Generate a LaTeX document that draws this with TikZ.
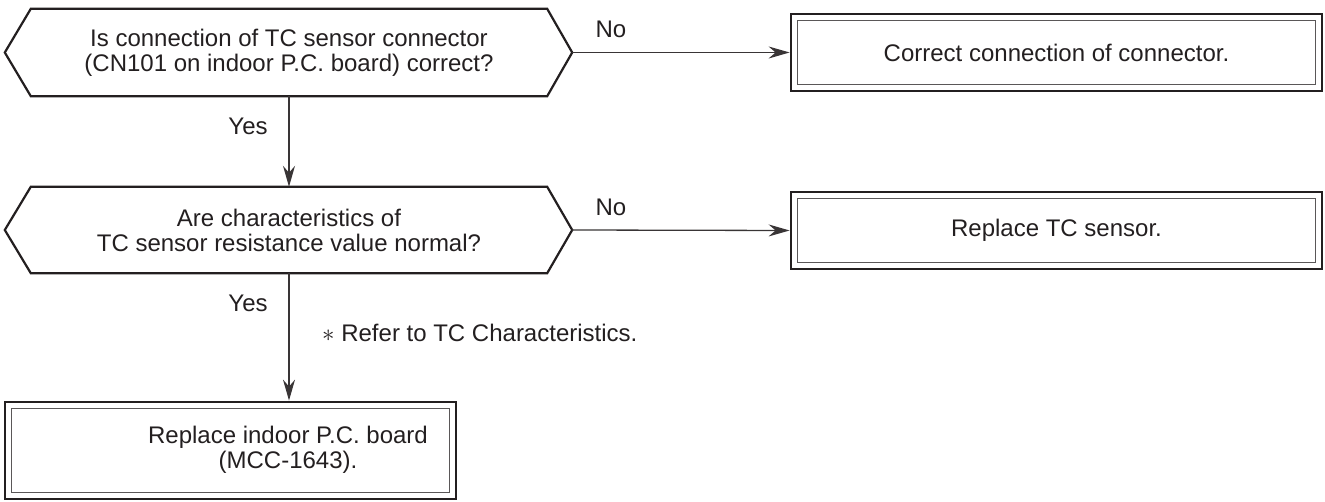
\documentclass[tikz,border=0pt]{standalone}
\usepackage{fontspec}
\setmainfont{Liberation Sans}
\usetikzlibrary{arrows.meta}
\definecolor{ink}{HTML}{231F20}
\begin{document}
\begin{tikzpicture}[x=1pt,y=-1pt, line join=miter,
  txt/.style={font=\fontsize{24}{25}\selectfont, text=ink, align=center, inner sep=0pt},
  hexbody/.style={minimum width=516pt, inner sep=0pt, txt},
  hexline/.style={line width=2.2pt, draw=ink},
  boxouter/.style={draw=ink, line width=2.8pt, inner sep=0pt, txt},
  boxinner/.style={draw=ink!75, line width=1.5pt},
  conn/.style={draw=ink!90, line width=1.3pt, -{Stealth[length=21pt,width=12pt,inset=7pt]}},
]
\useasboundingbox (0,0) rectangle (1325,502);

% decision 1
\node[hexbody, minimum height=87pt] (h1) at (289,52.5)
  {Is connection of TC sensor connector\\(CN101 on indoor P.C. board) correct?};
\coordinate (h1r) at ([xshift=25pt]h1.east);
\coordinate (h1l) at ([xshift=-26pt]h1.west);
\draw[hexline] (h1.north west) -- (h1.north east) -- (h1r) -- (h1.south east)
  -- (h1.south west) -- (h1l) -- cycle;

% decision 2
\node[hexbody, minimum height=86pt] (h2) at (289,230)
  {Are characteristics of\\TC sensor resistance value normal?};
\coordinate (h2r) at ([xshift=25pt]h2.east);
\coordinate (h2l) at ([xshift=-26pt]h2.west);
\draw[hexline] (h2.north west) -- (h2.north east) -- (h2r) -- (h2.south east)
  -- (h2.south west) -- (h2l) -- cycle;

% box 1
\node[boxouter, minimum width=531pt, minimum height=77pt] (b1) at (1056.5,52.5)
  {Correct connection of connector.};
\draw[boxinner] ([shift={(8,8)}]b1.north west) rectangle ([shift={(-8,-8)}]b1.south east);

% box 2
\node[boxouter, minimum width=531pt, minimum height=77pt] (b2) at (1056.5,230.5)
  {Replace TC sensor.};
\draw[boxinner] ([shift={(8,8)}]b2.north west) rectangle ([shift={(-8,-8)}]b2.south east);

% box 3
\node[boxouter, minimum width=451pt, minimum height=97pt] (b3) at (230.5,450.5) {};
\draw[boxinner] ([shift={(8,8)}]b3.north west) rectangle ([shift={(-8,-8)}]b3.south east);
\node[txt] (t3) at (288,450) {Replace indoor P.C. board\\(MCC-1643).};

% connectors
\draw[conn] (h1r) -- (b1.west);
\draw[conn] (h2r) -- (b2.west);
\draw[conn] (h1.south) -- (h2.north);
\draw[conn] (h2.south) -- (h2.south |- b3.north);

% labels
\node[txt] (no1) at (611,29) {No};
\node[txt] (no2) at (611,207) {No};
\node[txt] (yes1) at (248,126) {Yes};
\node[txt] (yes2) at (248,303) {Yes};
\node[txt, anchor=west] (note) at (322,333) {$\ast$ Refer to TC Characteristics.};
\end{tikzpicture}
\end{document}
